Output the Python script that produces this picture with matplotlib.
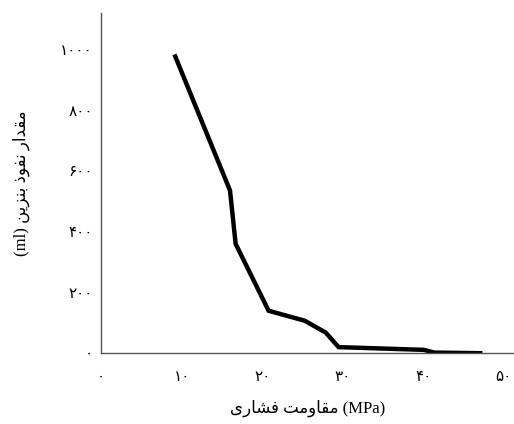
import matplotlib
matplotlib.use("Agg")
import matplotlib.pyplot as plt

# compressive strength (MPa) vs petrol penetration (ml)
strength = [9.2, 16.0, 16.7, 20.8, 25.3, 27.9, 29.5, 40.1, 41.4, 47.1]
penetration = [979, 537, 361, 140, 107, 68, 20, 11, 2, 0]

xticks = [0, 10, 20, 30, 40, 50]
yticks = [0, 200, 400, 600, 800, 1000]

xlabel_fa = "مقاومت فشاری"
ylabel_fa = "مقدار نفوذ بنزین"

plt.rcParams['font.family'] = ['Liberation Serif', 'DejaVu Sans']

# matplotlib has no arabic shaping, so pick presentation forms by hand
# (isolated, final, initial, medial)
FORMS = {
    'ا': ('\uFE8D', '\uFE8E', None, None),
    'ب': ('\uFE8F', '\uFE90', '\uFE91', '\uFE92'),
    'ت': ('\uFE95', '\uFE96', '\uFE97', '\uFE98'),
    'د': ('\uFEA9', '\uFEAA', None, None),
    'ذ': ('\uFEAB', '\uFEAC', None, None),
    'ر': ('\uFEAD', '\uFEAE', None, None),
    'ز': ('\uFEAF', '\uFEB0', None, None),
    'ش': ('\uFEB5', '\uFEB6', '\uFEB7', '\uFEB8'),
    'ف': ('\uFED1', '\uFED2', '\uFED3', '\uFED4'),
    'ق': ('\uFED5', '\uFED6', '\uFED7', '\uFED8'),
    'م': ('\uFEE1', '\uFEE2', '\uFEE3', '\uFEE4'),
    'ن': ('\uFEE5', '\uFEE6', '\uFEE7', '\uFEE8'),
    'و': ('\uFEED', '\uFEEE', None, None),
    'ی': ('\uFEEF', '\uFEF0', '\uFEF3', '\uFEF4'),
}


def shape(text):
    out = []
    for i, c in enumerate(text):
        if c not in FORMS:
            out.append(c)
            continue
        iso, fin, ini, med = FORMS[c]
        prev = text[i - 1] if i > 0 else None
        nxt = text[i + 1] if i + 1 < len(text) else None
        jp = prev in FORMS and FORMS[prev][2] is not None
        jn = nxt in FORMS and ini is not None
        if jp and jn:
            out.append(med)
        elif jp:
            out.append(fin)
        elif jn:
            out.append(ini)
        else:
            out.append(iso)
    return ''.join(reversed(out))


def fa_digits(n):
    return str(n).translate(str.maketrans('0123456789', '۰۱۲۳۴۵۶۷۸۹'))


fig = plt.figure(figsize=(5.14, 4.24), dpi=100)
ax = fig.add_axes([0.197, 0.167, 0.803, 0.802])

ax.plot(strength, penetration, color='black', linewidth=3.2, solid_joinstyle='miter')

ax.set_xlim(0, 51.3)
ax.set_ylim(0, 1122)
ax.set_xticks(xticks)
ax.set_xticklabels([fa_digits(v) for v in xticks])
ax.set_yticks(yticks)
ax.set_yticklabels([fa_digits(v) for v in yticks])
ax.tick_params(axis='both', length=0, labelsize=11)
ax.tick_params(axis='x', pad=13)
ax.tick_params(axis='y', pad=6)

for s in ['top', 'right']:
    ax.spines[s].set_visible(False)
for s in ['left', 'bottom']:
    ax.spines[s].set_color('#555555')
    ax.spines[s].set_linewidth(1.0)

ax.set_xlabel(shape(xlabel_fa) + " (MPa)", fontsize=12, labelpad=11)
ax.set_ylabel("(ml) " + shape(ylabel_fa), fontsize=12, labelpad=22)

fig.savefig("out.png", dpi=100)
